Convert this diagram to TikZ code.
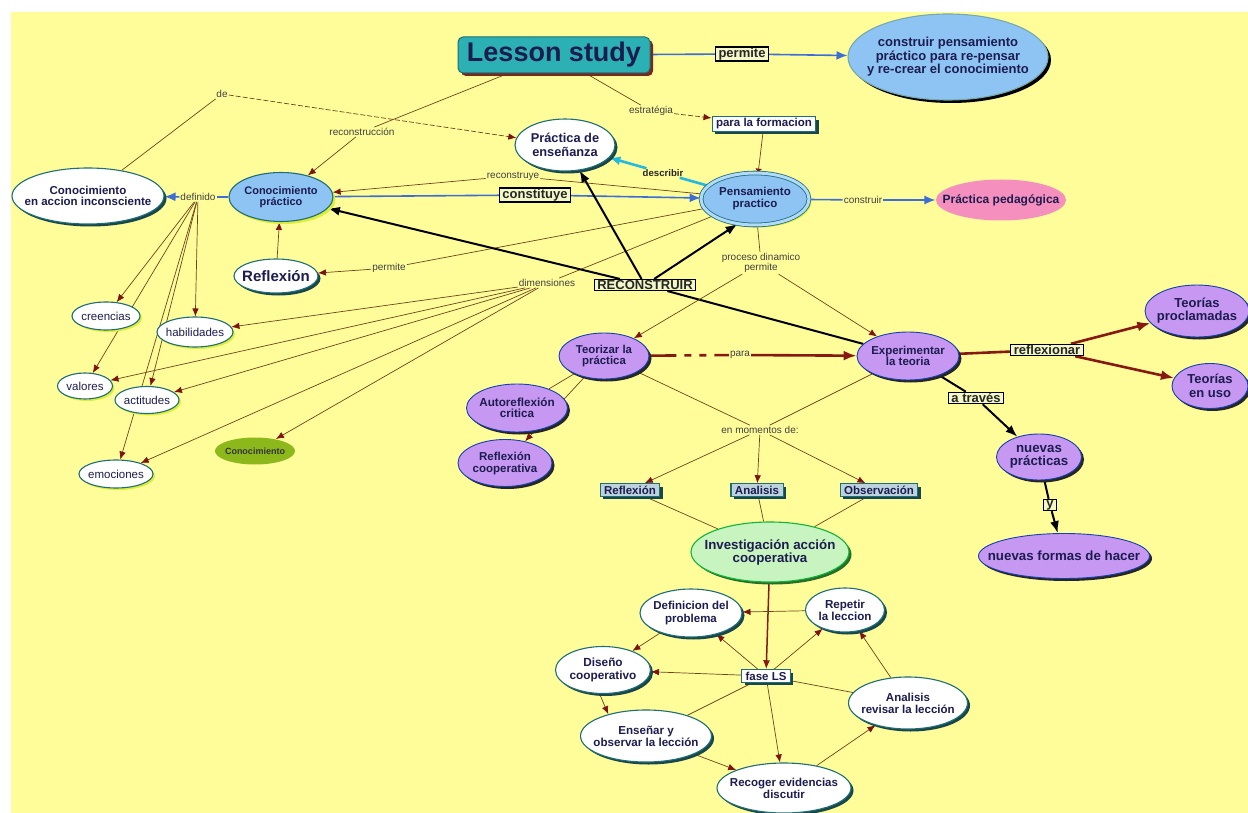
\documentclass[tikz,border=0pt]{standalone}
\usepackage{fontspec}
\setmainfont{Liberation Sans}
\usetikzlibrary{shapes.geometric,arrows.meta,shadows}
\definecolor{bgy}{RGB}{255,253,153}
\definecolor{navy}{RGB}{28,28,80}
\definecolor{lblue}{RGB}{142,196,244}
\definecolor{lblue2}{RGB}{178,218,250}
\definecolor{lav}{RGB}{198,152,242}
\definecolor{pinkn}{RGB}{245,143,190}
\definecolor{greenC}{RGB}{140,184,28}
\definecolor{lgreen}{RGB}{200,244,192}
\definecolor{tealL}{RGB}{43,177,180}
\definecolor{tealB}{RGB}{30,110,118}
\definecolor{shteal}{RGB}{25,70,75}
\definecolor{shyel}{RGB}{220,238,60}
\definecolor{brownL}{RGB}{110,68,28}
\definecolor{arred}{RGB}{125,20,20}
\definecolor{blueL}{RGB}{60,110,214}
\definecolor{cyanL}{RGB}{35,185,225}
\definecolor{drk}{RGB}{135,25,20}
\definecolor{boxg}{RGB}{188,211,222}
\definecolor{paleg}{RGB}{243,248,200}
\definecolor{shred}{RGB}{120,40,30}
\definecolor{shgreen}{RGB}{40,110,40}
\newcommand{\fsz}[2]{\fontsize{#1}{#2}\selectfont}
\pgfdeclarelayer{bgl}\pgfdeclarelayer{edgel}\pgfsetlayers{bgl,edgel,main}
\begin{document}
\begin{tikzpicture}[x=1pt,y=-1pt,
  every node/.style={text=navy},
  sz/.style 2 args={minimum width=#1pt,minimum height=#2pt},
  ell/.style={ellipse,inner sep=-40pt,align=center,draw=tealB,line width=1.1pt,font=\bfseries\fsz{11}{11.5}},
  wel/.style={ell,fill=white,general shadow={fill=shteal,shadow xshift=2.5pt,shadow yshift=-2.5pt}},
  sel/.style={ell,fill=white,font=\fsz{11.5}{13},general shadow={fill=shyel,shadow xshift=2pt,shadow yshift=-2pt}},
  pel/.style={ell,fill=lav,draw=tealB!60!blue,line width=0.9pt,general shadow={fill=black!85,shadow xshift=2.5pt,shadow yshift=-2.5pt}},
  rbox/.style={rectangle,draw=tealB,line width=1.1pt,inner xsep=4pt,inner ysep=2pt,font=\bfseries\fsz{11.5}{13},general shadow={fill=shteal,shadow xshift=3pt,shadow yshift=-3pt}},
  lbox/.style={rectangle,draw=black,line width=1.3pt,fill=paleg,inner xsep=3pt,inner ysep=0.8pt,text=black!85,font=\bfseries\fsz{13}{14}},
  llab/.style={inner sep=1pt,align=center,text=black!75,font=\fsz{10}{10.5}},
  ln/.style={draw=brownL,line width=0.7pt},
  ar/.style={ln,-{Latex[length=8pt,width=6.5pt,color=arred]}},
  bln/.style={draw=blueL,line width=1.6pt},
  bar/.style={bln,-{Latex[length=11pt,width=9pt]}},
  bk/.style={draw=black,line width=2pt},
  bkar/.style={bk,-{Latex[length=12pt,width=9pt]}},
  drl/.style={draw=drk,line width=2.6pt},
  drar/.style={drl,-{Latex[length=13pt,width=10pt]}},
  cyl/.style={draw=cyanL,line width=2.6pt},
  cyar/.style={cyl,-{Latex[length=11pt,width=9pt]}}]
\useasboundingbox (0,0) rectangle (1248,813);
\begin{pgfonlayer}{bgl}
\fill[bgy] (11,12) rectangle (1248,813);
\end{pgfonlayer}

% ---- top
\node[rectangle,rounded corners=5pt,fill=tealL,draw=tealB,line width=1pt,sz={192}{36},font=\bfseries\fsz{27}{28},general shadow={fill=shred,shadow xshift=3pt,shadow yshift=-3pt}] (ls) at (554,55) {Lesson study};
\node[ell,fill=lblue,draw=tealB!60,sz={200}{86},font=\bfseries\fsz{13}{13.5},general shadow={fill=black,shadow xshift=3pt,shadow yshift=-3pt}] (cpc) at (948,57) {construir pensamiento\\práctico para re-pensar\\y re-crear el conocimiento};
\node[lbox] (perm1) at (742,54) {permite};
\node[rbox,fill=white] (plf) at (764,124) {para la formacion};
\node[llab] (estr) at (651,111) {estratégia};
\node[wel,sz={100}{52},font=\bfseries\fsz{12.8}{14}] (pde) at (565,145) {Práctica de\\enseñanza};
\node[llab] (de) at (222,94) {de};
\node[llab] (recons) at (362,132) {reconstrucción};

% ---- middle row
\node[wel,sz={152}{56},font=\bfseries\fsz{11.5}{11.5}] (ccai) at (88,196) {Conocimiento\\en accion inconsciente};
\node[ell,fill=lblue,sz={104}{49},general shadow={fill=shyel,shadow xshift=2.5pt,shadow yshift=-2.5pt}] (cpr) at (281,197) {Conocimiento\\práctico};
\node[ell,fill=lblue,draw=tealB,line width=0.8pt,double=lblue2,double distance=3pt,sz={108}{52},font=\bfseries\fsz{11.5}{12},general shadow={fill=shyel,shadow xshift=2.5pt,shadow yshift=-2.5pt}] (pens) at (755,199) {Pensamiento\\practico};
\node[ell,draw=none,fill=pinkn,sz={130}{41},font=\bfseries\fsz{12}{13}] (ppeda) at (1001,200) {Práctica pedagógica};
\node[llab] (defi) at (198,197) {definido};
\node[lbox] (const) at (535,195) {constituye};
\node[llab] (recy) at (513,176) {reconstruye};
\node[font=\bfseries\fsz{9.6}{10},inner sep=1pt,text=black!85] (descr) at (663,173) {describir};
\node[llab] (constr) at (863,200) {construir};

\node[wel,sz={84}{34},font=\bfseries\fsz{15}{16}] (refl) at (276,276) {Reflexión};
\node[llab] (perm2) at (389,268) {permite};
\node[llab] (dimen) at (547,283) {dimensiones};
\node[lbox] (recon) at (645,285) {RECONSTRUIR};
\node[llab] (proc) at (761,263) {proceso dinamico\\permite};

% ---- small left ellipses
\node[sel,sz={68}{28}] (cree) at (106,316) {creencias};
\node[sel,sz={76}{30}] (habi) at (195,332) {habilidades};
\node[sel,sz={55}{26}] (valo) at (85,386) {valores};
\node[sel,sz={64}{27}] (acti) at (147,400) {actitudes};
\node[sel,sz={74}{28}] (emoc) at (116,474) {emociones};
\node[ell,draw=none,fill=greenC,sz={80}{27},font=\bfseries\fsz{9}{10},text=black!80] (cono) at (255,451) {Conocimiento};

% ---- purple
\node[pel,sz={90}{46},font=\bfseries\fsz{11.4}{11.5}] (teo) at (604,356) {Teorizar la\\práctica};
\node[pel,sz={102}{48},font=\bfseries\fsz{11.5}{11.5}] (exp) at (908,356) {Experimentar\\la teoria};
\node[llab] (para) at (740,355) {para};
\node[pel,sz={101}{48},font=\bfseries\fsz{11.7}{11.5}] (auto) at (517,408) {Autoreflexión\\critica};
\node[pel,sz={94}{47},font=\bfseries\fsz{11.5}{12}] (rcoop) at (505,463) {Reflexión\\cooperativa};
\node[pel,sz={104}{52},font=\bfseries\fsz{13}{13}] (tproc) at (1197,311) {Teorías\\proclamadas};
\node[pel,sz={76}{45},font=\bfseries\fsz{13}{14}] (tuso) at (1210,386) {Teorías\\en uso};
\node[lbox] (refx) at (1047,350) {reflexionar};
\node[lbox] (atra) at (976,398) {a través};
\node[pel,sz={85}{46},font=\bfseries\fsz{13.3}{13}] (npra) at (1039,457) {nuevas\\prácticas};
\node[lbox] (yb) at (1050,505) {y};
\node[pel,sz={171}{45},font=\bfseries\fsz{13.3}{14}] (nfor) at (1064,556) {nuevas formas de hacer};

% ---- lower centre
\node[llab] (enmo) at (760,430) {en momentos de:};
\node[rbox,fill=boxg] (rbx) at (630,490) {Reflexión};
\node[rbox,fill=boxg] (abx) at (757,490) {Analisis};
\node[rbox,fill=boxg] (obx) at (879,490) {Observación};
\node[ell,fill=lgreen,draw=tealB!50!green,sz={158}{60},font=\bfseries\fsz{13.3}{13},general shadow={fill=shgreen,shadow xshift=2.5pt,shadow yshift=-2.5pt}] (inv) at (770,552) {Investigación acción\\cooperativa};
\node[rbox,fill=white] (fase) at (766,676) {fase LS};
\node[wel,sz={102}{48},font=\bfseries\fsz{11.5}{13}] (defp) at (691,613) {Definicion del\\problema};
\node[wel,sz={79}{44},font=\bfseries\fsz{11.6}{12}] (repe) at (845,610) {Repetir\\la leccion};
\node[wel,sz={95}{47},font=\bfseries\fsz{11.8}{12.5}] (dise) at (603,670) {Diseño\\cooperativo};
\node[wel,sz={119}{52},font=\bfseries\fsz{11.5}{12}] (anal) at (908,703) {Analisis\\revisar la lección};
\node[wel,sz={131}{52},font=\bfseries\fsz{11.6}{12}] (ense) at (646,736) {Enseñar y\\observar la lección};
\node[wel,sz={134}{50},font=\bfseries\fsz{11.5}{12}] (reco) at (784,788) {Recoger evidencias\\discutir};

\begin{pgfonlayer}{edgel}
% top
\draw[bln] (ls) -- (perm1);
\draw[bar] (perm1) -- (cpc);
\draw[ln] (ls) -- (recons);
\draw[ar] (recons) -- (cpr);
\draw[ln] (ls) -- (estr);
\draw[ar,dash pattern=on 5pt off 2pt] (estr) -- (plf);
\draw[ln,-{Latex[length=4pt,width=7pt,color=arred]}] (plf) -- (pens);
\draw[ln] (ccai) -- (de);
\draw[ar,dash pattern=on 5pt off 2pt] (de) -- (pde);
% middle
\draw[bln] (cpr) -- (const);
\draw[bar] (const) -- (pens);
\draw[ln] (pens) -- (recy);
\draw[ar] (recy) -- (cpr);
\draw[cyl] (pens) -- (descr);
\draw[cyar] (descr) -- (pde);
\draw[bln] (pens) -- (constr);
\draw[bar] (constr) -- (ppeda);
\draw[bln] (cpr) -- (defi);
\draw[bar] (defi) -- (ccai);
\foreach \t in {cree,valo,habi,acti,emoc} \draw[ar] (defi) -- (\t);
\draw[ln] (pens) -- (perm2);
\draw[ar] (perm2) -- (refl);
\draw[ar] (refl) -- (cpr);
\draw[ln] (pens) -- (dimen);
\foreach \t in {habi,valo,acti,emoc,cono} \draw[ar] (dimen) -- (\t);
% reconstruir
\draw[bk] (exp) -- (recon);
\draw[bkar] (recon) -- (cpr);
\draw[bkar] (recon) -- (pde);
\draw[bkar] (recon) -- (pens.235);
% proceso
\draw[ln] (pens) -- (proc);
\draw[ar] (proc) -- (teo);
\draw[ar] (proc) -- (exp);
% teorizar
\draw[drl,dash pattern=on 27pt off 8pt on 7pt off 8pt on 7pt off 8pt on 40pt] (teo) -- (para);
\draw[drar] (para) -- (exp);
\draw[ln] (teo) -- (auto);
\draw[ar] (teo) -- (rcoop);
\draw[ln] (teo) -- (enmo);
\draw[ln] (exp) -- (enmo);
\draw[ar] (enmo) -- (rbx);
\draw[ar] (enmo) -- (abx);
\draw[ar] (enmo) -- (obx);
% experimentar
\draw[drl] (exp) -- (refx);
\draw[drar] (refx) -- (tproc);
\draw[drar] (refx) -- (tuso);
\draw[bk] (exp) -- (atra);
\draw[bkar] (atra) -- (npra);
\draw[bk] (npra) -- (yb);
\draw[bkar] (yb) -- (nfor);
% investigacion
\draw[ln] (rbx) -- (inv);
\draw[ln] (abx) -- (inv);
\draw[ln] (obx) -- (inv);
\draw[draw=drk,line width=1.5pt,-{Latex[length=9pt,width=7pt]}] (inv) -- (fase);
\draw[ar] (fase) -- (defp);
\draw[ar] (fase) -- (repe);
\draw[ar] (fase) -- (dise);
\draw[ar] (fase) -- (reco);
\draw[ln] (fase) -- (anal);
\draw[ln] (fase) -- (ense);
\draw[ar] (repe) -- (defp);
\draw[ar] (defp) -- (dise);
\draw[ar] (dise.262) -- (ense.150);
\draw[ar] (ense) -- (reco);
\draw[ar] (reco) -- (anal);
\draw[ar] (anal) -- (repe);
\end{pgfonlayer}
\end{tikzpicture}
\end{document}
